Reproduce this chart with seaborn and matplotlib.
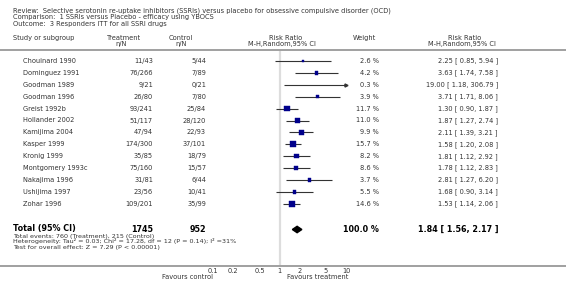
import matplotlib
matplotlib.use("Agg")
import matplotlib.pyplot as plt
import matplotlib.transforms as mtransforms
from matplotlib.lines import Line2D
import seaborn as sns
import pandas as pd

# ---------------- data ----------------
studies = ["Chouinard 1990", "Dominguez 1991", "Goodman 1989", "Goodman 1996",
           "Greist 1992b", "Hollander 2002", "Kamijima 2004", "Kasper 1999",
           "Kronig 1999", "Montgomery 1993c", "Nakajima 1996", "Ushijima 1997",
           "Zohar 1996"]
treat_nN = ["11/43", "76/266", "9/21", "26/80", "93/241", "51/117", "47/94",
            "174/300", "35/85", "75/160", "31/81", "23/56", "109/201"]
ctrl_nN = ["5/44", "7/89", "0/21", "7/80", "25/84", "28/120", "22/93",
           "37/101", "18/79", "15/57", "6/44", "10/41", "35/99"]
rr = [2.25, 3.63, 19.00, 3.71, 1.30, 1.87, 2.11, 1.58, 1.81, 1.78, 2.81, 1.68, 1.53]
rr_lo = [0.85, 1.74, 1.18, 1.71, 0.90, 1.27, 1.39, 1.20, 1.12, 1.12, 1.27, 0.90, 1.14]
rr_hi = [5.94, 7.58, 306.79, 8.06, 1.87, 2.74, 3.21, 2.08, 2.92, 2.83, 6.20, 3.14, 2.06]
weights = [2.6, 4.2, 0.3, 3.9, 11.7, 11.0, 9.9, 15.7, 8.2, 8.6, 3.7, 5.5, 14.6]

total_treat = "1745"
total_ctrl = "952"
total_weight = 100.0
total_rr, total_lo, total_hi = 1.84, 1.56, 2.17

tick_values = [0.1, 0.2, 0.5, 1, 2, 5, 10]
tick_labels = ["0.1", "0.2", "0.5", "1", "2", "5", "10"]

header_lines = [
    "Review:  Selective serotonin re-uptake inhibitors (SSRIs) versus placebo for obsessive compulsive disorder (OCD)",
    "Comparison:  1 SSRIs versus Placebo - efficacy using YBOCS",
    "Outcome:  3 Responders ITT for all SSRI drugs",
]
footer_lines = [
    "Total events: 760 (Treatment), 215 (Control)",
    "Heterogeneity: Tau\u00b2 = 0.03; Chi\u00b2 = 17.28, df = 12 (P = 0.14); I\u00b2 =31%",
    "Test for overall effect: Z = 7.29 (P < 0.00001)",
]

# ---------------- layout ----------------
W, H = 566, 289
sns.set_style("white")
plt.rcParams["font.family"] = ["DejaVu Sans"]
TXT = "#333333"
fs = 4.8

fig = plt.figure(figsize=(W / 100, H / 100), dpi=100)
row0_px, row_step = 61.0, 11.9
ax_top_px, ax_bot_px = 50.0, 266.0
ax_left_px, ax_right_px = 213.0, 346.0
ax = fig.add_axes([ax_left_px / W, (H - ax_bot_px) / H,
                   (ax_right_px - ax_left_px) / W, (ax_bot_px - ax_top_px) / H])
ax.set_xscale("log")
ax.set_xlim(0.1, 10)
ax.set_ylim((ax_bot_px - row0_px) / row_step, (ax_top_px - row0_px) / row_step)
for s in ax.spines.values():
    s.set_visible(False)
ax.set_yticks([])
ax.set_xticks(tick_values)
ax.set_xticklabels(tick_labels)
ax.minorticks_off()
ax.tick_params(axis="x", direction="in", length=2.5, width=0.6, color="#444444",
               labelsize=4.8, labelcolor=TXT, pad=1.5)
ax.patch.set_alpha(0)

rows = list(range(len(studies)))
total_row = (229.5 - row0_px) / row_step

df = pd.DataFrame({"study": studies, "rr": rr, "lo": rr_lo, "hi": rr_hi,
                   "weight": weights, "row": rows})

# line of no effect
ax.axvline(1, color="#dddddd", lw=1.6, zorder=0)

# CI lines
for r, lo, hi in zip(rows, rr_lo, rr_hi):
    ax.plot([max(lo, 0.1), min(hi, 10)], [r, r], color="#333333", lw=0.8,
            solid_capstyle="butt", zorder=2, clip_on=False)
    if hi > 10:
        ax.plot([10], [r], marker=">", ms=2.2, color="#333333", zorder=3, clip_on=False)

# weight squares (area proportional to weight)
vis = df[df["rr"] <= 10]
sns.scatterplot(data=vis, x="rr", y="row", size="weight", sizes=(0, 20.0),
                size_norm=(0, 15.7), marker="s", color="#00008b",
                edgecolor="#00008b", linewidth=0.3, legend=False, ax=ax, zorder=4)
ax.set_xlabel("")
ax.set_ylabel("")

# pooled diamond
dh = 0.27
ax.fill([total_lo, total_rr, total_hi, total_rr],
        [total_row, total_row - dh, total_row, total_row + dh],
        color="black", zorder=4)

# ---------------- text ----------------
rowtf = mtransforms.blended_transform_factory(fig.transFigure, ax.transData)

def fx(px):
    return px / W

def fy(py):
    return 1 - py / H

for i, line in enumerate(header_lines):
    fig.text(fx(13), fy([11, 17.5, 24][i]), line, fontsize=fs, color=TXT, va="center", ha="left")

hdr1, hdr2 = 38, 44
fig.text(fx(13), fy(hdr1), "Study or subgroup", fontsize=fs, color=TXT, va="center")
fig.text(fx(124), fy(hdr1), "Treatment", fontsize=fs, color=TXT, va="center", ha="center")
fig.text(fx(121), fy(hdr2), "n/N", fontsize=fs, color=TXT, va="center", ha="center")
fig.text(fx(181), fy(hdr1), "Control", fontsize=fs, color=TXT, va="center", ha="center")
fig.text(fx(181), fy(hdr2), "n/N", fontsize=fs, color=TXT, va="center", ha="center")
fig.text(fx(286), fy(hdr1), "Risk Ratio", fontsize=fs, color=TXT, va="center", ha="center")
fig.text(fx(282), fy(hdr2), "M-H,Random,95% CI", fontsize=fs, color=TXT, va="center", ha="center")
fig.text(fx(364), fy(hdr1), "Weight", fontsize=fs, color=TXT, va="center", ha="center")
fig.text(fx(465), fy(hdr1), "Risk Ratio", fontsize=fs, color=TXT, va="center", ha="center")
fig.text(fx(462), fy(hdr2), "M-H,Random,95% CI", fontsize=fs, color=TXT, va="center", ha="center")

for r, name, t, c, w, e, lo, hi in zip(rows, studies, treat_nN, ctrl_nN, weights, rr, rr_lo, rr_hi):
    kw = dict(transform=rowtf, fontsize=fs, color=TXT, va="center", clip_on=False)
    ax.text(fx(23), r, name, ha="left", **kw)
    ax.text(fx(153), r, t, ha="right", **kw)
    ax.text(fx(206), r, c, ha="right", **kw)
    ax.text(fx(379), r, f"{w:.1f} %", ha="right", **kw)
    ax.text(fx(498), r, f"{e:.2f} [ {lo:.2f}, {hi:.2f} ]", ha="right", **kw)

# bold total row (baseline just below the diamond centre)
kwb = dict(fontsize=5.8, color="black", va="baseline", fontweight="bold")
yb = fy(231.5)
fig.text(fx(13), yb, "Total (95% CI)", ha="left", **kwb)
fig.text(fx(153), yb, total_treat, ha="right", **kwb)
fig.text(fx(206), yb, total_ctrl, ha="right", **kwb)
fig.text(fx(379), yb, f"{total_weight:.1f} %", ha="right", **kwb)
fig.text(fx(499), yb, f"{total_rr:.2f} [ {total_lo:.2f}, {total_hi:.2f} ]", ha="right", **kwb)

for i, line in enumerate(footer_lines):
    fig.text(fx(13), fy([237.6, 243.4, 249.0][i]), line, fontsize=4.6, color=TXT,
             va="baseline", ha="left")

fig.text(fx(213), fy(277), "Favours control", fontsize=fs, color=TXT, va="center", ha="right")
fig.text(fx(287), fy(277), "Favours treatment", fontsize=fs, color=TXT, va="center", ha="left")

# full-width rules
fig.add_artist(Line2D([0, 1], [fy(50), fy(50)], transform=fig.transFigure,
                      color="#a0a0a0", lw=1.4))
fig.add_artist(Line2D([0, 1], [fy(266), fy(266)], transform=fig.transFigure,
                      color="#a0a0a0", lw=1.4))

fig.savefig("out.png", dpi=100)
